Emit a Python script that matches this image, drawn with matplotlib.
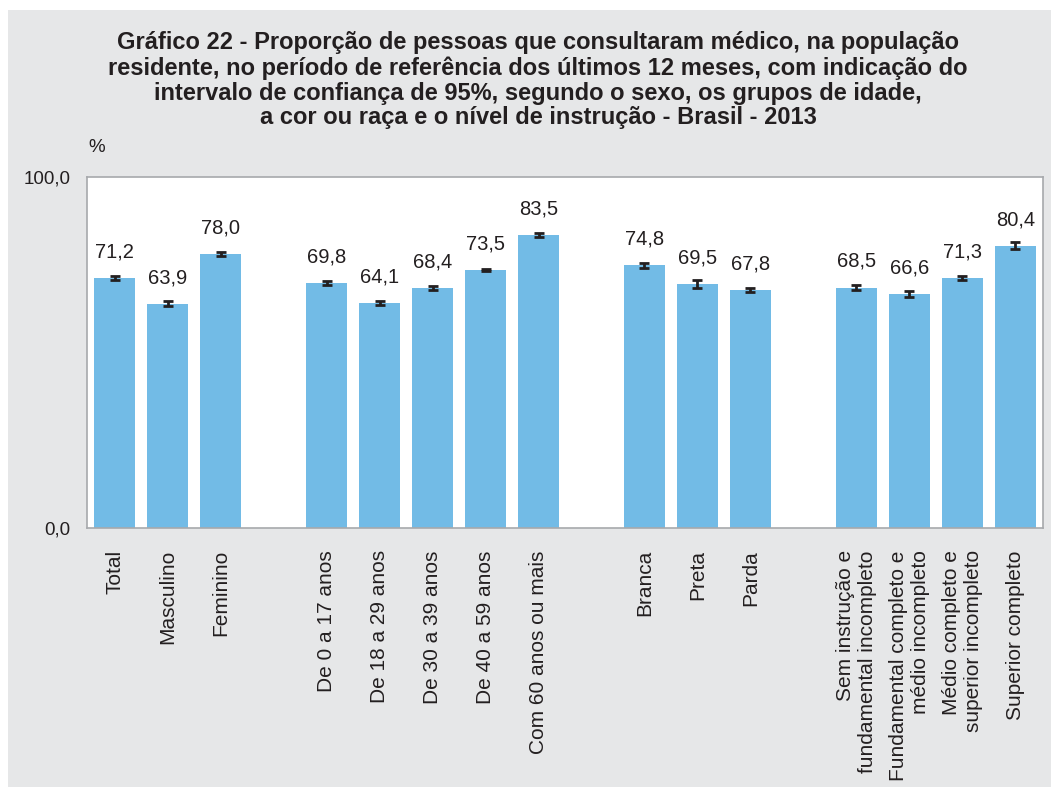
import numpy as np
import matplotlib
matplotlib.use('Agg')
import matplotlib.pyplot as plt
from matplotlib.patches import Rectangle

plt.rcParams['font.family'] = ['Liberation Sans', 'DejaVu Sans']

# categories, grouped (an empty slot separates the groups)
groups = [
    ['Total', 'Masculino', 'Feminino'],
    ['De 0 a 17 anos', 'De 18 a 29 anos', 'De 30 a 39 anos', 'De 40 a 59 anos',
     'Com 60 anos ou mais'],
    ['Branca', 'Preta', 'Parda'],
    ['Sem instrução e\nfundamental incompleto', 'Fundamental completo e\nmédio incompleto',
     'Médio completo e\nsuperior incompleto', 'Superior completo'],
]
values = [71.2, 63.9, 78.0,
          69.8, 64.1, 68.4, 73.5, 83.5,
          74.8, 69.5, 67.8,
          68.5, 66.6, 71.3, 80.4]
# half width of the 95% confidence interval
ci = [0.5, 0.7, 0.5,
      0.6, 0.6, 0.6, 0.4, 0.6,
      0.6, 1.1, 0.6,
      0.6, 0.9, 0.6, 1.0]

BG = '#e6e7e8'
BAR = '#72bbe6'
INK = '#231f20'

# slot positions
xs = []
labels = []
pos = 0
for g in groups:
    for name in g:
        xs.append(pos)
        labels.append(name)
        pos += 1
    pos += 1
xs = np.array(xs)

fig = plt.figure(figsize=(10.51, 7.87), dpi=100)
fig.patch.set_facecolor('white')
fig.patches.append(Rectangle((8 / 1051, 0), 1, 1 - 10 / 787, transform=fig.transFigure,
                             facecolor=BG, edgecolor='none', zorder=-10))

ax = fig.add_axes([87 / 1051, 1 - 528 / 787, (1043 - 87) / 1051, (528 - 177) / 787])
ax.set_facecolor('white')

ax.bar(xs, values, width=0.77, color=BAR, zorder=2)
ax.errorbar(xs, values, yerr=ci, fmt='none', ecolor=INK, elinewidth=2,
            capsize=3.5, capthick=2, zorder=3)

for x, v in zip(xs, values):
    ax.annotate('{:.1f}'.format(v).replace('.', ','), (x, v), xytext=(0, 12),
                textcoords='offset points', ha='center', va='bottom',
                fontsize=14.5, color=INK)

ax.set_xlim(-0.52, 17.52)
ax.set_ylim(0, 100)
ax.set_yticks([0, 100])
ax.set_yticklabels(['0,0', '100,0'], fontsize=13.5, color=INK)
ax.set_xticks(xs)
ax.set_xticklabels(labels, rotation=90, fontsize=15, color=INK,
                   ha='center', va='top', multialignment='right', linespacing=1.15)
ax.tick_params(axis='both', length=0)
ax.tick_params(axis='y', pad=12)
ax.tick_params(axis='x', pad=16)
for s in ax.spines.values():
    s.set_color('#a7a9ac')
    s.set_linewidth(1.2)

fig.text(97 / 1051, 1 - 147 / 787, '%', fontsize=13.5, color=INK,
         ha='center', va='center')

title = ('Gráfico 22 - Proporção de pessoas que consultaram médico, na população\n'
         'residente, no período de referência dos últimos 12 meses, com indicação do\n'
         'intervalo de confiança de 95%, segundo o sexo, os grupos de idade,\n'
         'a cor ou raça e o nível de instrução - Brasil - 2013')
fig.text(538 / 1051, 1 - 31 / 787, title, fontsize=17, fontweight='bold',
         color=INK, ha='center', va='top', linespacing=1.11)

fig.savefig('out.png', dpi=100, facecolor=fig.get_facecolor())
